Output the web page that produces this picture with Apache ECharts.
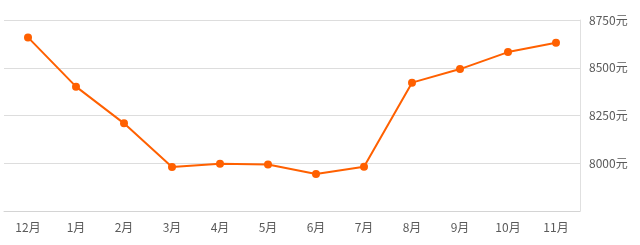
<!DOCTYPE html>
<html><head><meta charset="utf-8">
<script src="https://cdn.jsdelivr.net/npm/echarts@6/dist/echarts.min.js"></script>
<style>html,body{margin:0;padding:0;background:#fff}#c{width:640px;height:245px}</style>
</head><body><div id="c"></div>
<script>
var months = ['12月','1月','2月','3月','4月','5月','6月','7月','8月','9月','10月','11月'];
var prices = [8659, 8401, 8209, 7980, 7998, 7994, 7944, 7982, 8422, 8493, 8582, 8631];
var yMin = 7750, yMax = 8750, yStep = 250;
var chart = echarts.init(document.getElementById('c'));
chart.setOption({
  animation: false,
  grid: {left: 4, right: 60, top: 20, bottom: 34},
  xAxis: {
    type: 'category', data: months, boundaryGap: true,
    axisLine: {lineStyle: {color: '#d4d4d4'}},
    axisTick: {alignWithLabel: true, lineStyle: {color: '#d4d4d4'}, length: 4},
    axisLabel: {color: '#5a5a5a', fontSize: 12, fontFamily: 'Noto Sans CJK SC', margin: 10}
  },
  yAxis: {
    type: 'value', position: 'right', min: yMin, max: yMax, interval: yStep,
    axisLine: {show: true, lineStyle: {color: '#e0e0e0'}},
    axisTick: {show: false},
    splitLine: {lineStyle: {color: '#dddddd'}},
    axisLabel: {color: '#5a5a5a', fontSize: 12, fontFamily: 'Noto Sans CJK SC', margin: 9,
      formatter: function(v){ return v === yMin ? '' : v + '元'; }}
  },
  series: [{
    type: 'line', data: prices, symbol: 'circle', symbolSize: 8,
    itemStyle: {color: '#ff6000'}, lineStyle: {color: '#ff6000', width: 2}
  }]
});
</script></body></html>
